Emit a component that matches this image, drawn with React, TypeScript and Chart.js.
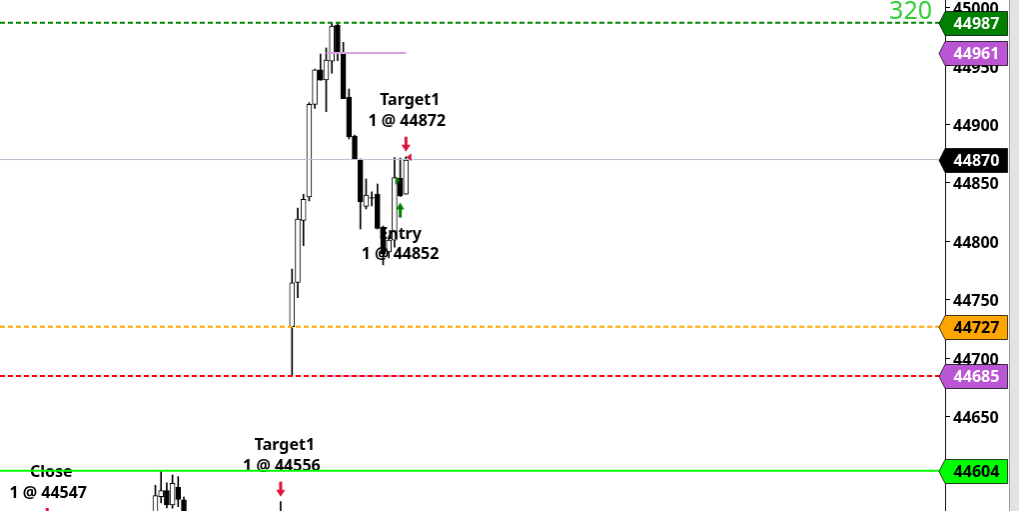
import React, { useEffect, useRef } from "react";
import { Chart, registerables } from "chart.js";
Chart.register(...registerables);

// ---- data ----
const barIndex = [-24, -23, -22, -21, -20, -19, -2, 0, 1, 2, 3, 4, 5, 6, 7, 8, 9, 10, 11, 12, 13, 14, 15, 16, 17, 18, 19, 20];
const openValues = [44566, 44581.8, 44586.9, 44574.7, 44589.8, 44579, 44566, 44727, 44765, 44818, 44838, 44917.2, 44946.6, 44938, 44954, 44985, 44961, 44923.5, 44890, 44869.5, 44830, 44837.5, 44840.5, 44810.5, 44791, 44801, 44854, 44840.3];
const highValues = [44591.5, 44604, 44593.5, 44600.3, 44598.9, 44581.5, 44577.5, 44776.4, 44828.6, 44840.3, 44918.6, 44947.4, 44960.2, 44965.4, 44986.5, 44987, 44970.2, 44930.3, 44891, 44870.5, 44853.4, 44842.3, 44849.1, 44813.2, 44804.6, 44871.6, 44871.3, 44872.4];
const lowValues = [44562, 44576.4, 44572.1, 44571.9, 44573.2, 44560, 44553, 44685, 44751.9, 44796.4, 44834.6, 44913.8, 44937.8, 44910.9, 44943.8, 44954.5, 44922, 44887.6, 44870.2, 44810.6, 44827.7, 44830.3, 44810.6, 44779.9, 44785.9, 44795, 44838.3, 44840.3];
const closeValues = [44582.6, 44586.9, 44574.7, 44593.2, 44579.5, 44566, 44558, 44764.5, 44819, 44836, 44917.2, 44946.6, 44937.8, 44955, 44984.2, 44960.8, 44922, 44889.5, 44870.2, 44834, 44839.7, 44837, 44811, 44789.3, 44801.2, 44854.5, 44839.1, 44869.6];

const yMin = 44569.5;
const yMax = 45006.4;
const yStep = 50;
const xMin = -51.28;
const xMax = 114.68;

// price levels (right-side badges)
const badgeValues = [44987, 44961, 44870, 44727, 44685, 44604];
const badgeFill = ["#008000", "#BA55D3", "#000000", "#FFA500", "#BA55D3", "#00FF00"];
const badgeTextColor = ["#ffffff", "#ffffff", "#ffffff", "#000000", "#ffffff", "#000000"];

// full-width horizontal lines
const lineValues = [44987, 44870, 44727, 44685, 44604];
const lineColors = ["#008000", "#b9c3d3", "#FFA500", "#FF0000", "#00FF00"];
const lineWidths = [2, 1, 2, 2, 2];
const lineDashes = [[5, 3], [], [5, 3], [5, 3], []];

// partial order lines (from bar to bar)
const segValues = [44961, 44685];
const segFrom = [6, 6];
const segTo = [20, 20];

// executions
const execIndex = [19, 20, -2, -43];
const execIsBuy = [true, false, false, false];
const execName = ["Entry", "Target1", "Target1", "Close"];
const execQty = [1, 1, 1, 1];
const execPrice = [44852, 44872, 44556, 44547];
const execBarExtreme = [44838.3, 44872.4, 44577.5, 44555];

const counterText = "320";

const FONT = '"Noto Sans", "Liberation Sans", sans-serif';
const BODY_DATASET = 1;

const overlayPlugin = {
  id: "overlay",
  afterDatasetDraw(chart: any, args: any) {
    if (args.index !== BODY_DATASET) return;
    const ctx = chart.ctx;
    const xs = chart.scales.x;
    const ys = chart.scales.y;
    ctx.save();
    ctx.font = `bold 16px ${FONT}`;
    ctx.fillStyle = "#000";
    ctx.textAlign = "center";
    ctx.textBaseline = "middle";
    for (let k = 0; k < execIndex.length; k++) {
      const px = xs.getPixelForValue(execIndex[k]);
      const ya = ys.getPixelForValue(execBarExtreme[k]);
      const t2 = `${execQty[k]} @ ${execPrice[k]}`;
      if (execIsBuy[k]) {
        ctx.fillText(execName[k], px, ya + 38);
        ctx.fillText(t2, px, ya + 58);
      } else {
        ctx.fillText(execName[k], px + 4, ya - 56);
        ctx.fillText(t2, px + 1, ya - 35);
      }
    }
    ctx.restore();
  },
  afterDatasetsDraw(chart: any) {
    const ctx = chart.ctx;
    const xs = chart.scales.x;
    const ys = chart.scales.y;
    ctx.save();
    for (let k = 0; k < execIndex.length; k++) {
      const px = xs.getPixelForValue(execIndex[k]);
      const ya = ys.getPixelForValue(execBarExtreme[k]);
      const yp = ys.getPixelForValue(execPrice[k]);
      if (execIsBuy[k]) {
        ctx.fillStyle = "#008000";
        ctx.fillRect(px - 1.5, ya + 12, 3, 9);
        ctx.beginPath();
        ctx.moveTo(px, ya + 6);
        ctx.lineTo(px + 4, ya + 13);
        ctx.lineTo(px - 4, ya + 13);
        ctx.closePath();
        ctx.fill();
        ctx.beginPath();
        ctx.moveTo(px - 5, yp - 4.5);
        ctx.lineTo(px - 0.5, yp);
        ctx.lineTo(px - 5, yp + 4.5);
        ctx.closePath();
        ctx.fill();
      } else {
        ctx.fillStyle = "#DC143C";
        ctx.fillRect(px - 1.5, ya - 20, 3, 9);
        ctx.beginPath();
        ctx.moveTo(px - 4.5, ya - 12);
        ctx.lineTo(px + 4.5, ya - 12);
        ctx.lineTo(px, ya - 5);
        ctx.closePath();
        ctx.fill();
        ctx.beginPath();
        ctx.moveTo(px + 0.5, yp);
        ctx.lineTo(px + 5.5, yp - 4);
        ctx.lineTo(px + 5.5, yp + 4);
        ctx.closePath();
        ctx.fill();
      }
    }
    ctx.restore();
  },
  afterDraw(chart: any) {
    const ctx = chart.ctx;
    const ys = chart.scales.y;
    const area = chart.chartArea;
    const right = chart.width - 1;
    ctx.save();
    for (let k = 0; k < badgeValues.length; k++) {
      const yc = Math.round(ys.getPixelForValue(badgeValues[k])) + 0.5;
      const l = area.right;
      ctx.beginPath();
      ctx.moveTo(l - 6, yc);
      ctx.lineTo(l, yc - 12);
      ctx.lineTo(right - 0.5, yc - 12);
      ctx.lineTo(right - 0.5, yc + 12);
      ctx.lineTo(l, yc + 12);
      ctx.closePath();
      ctx.fillStyle = badgeFill[k];
      ctx.fill();
      ctx.strokeStyle = "rgba(0,0,0,0.75)";
      ctx.lineWidth = 1;
      ctx.stroke();
      ctx.fillStyle = badgeTextColor[k];
      ctx.font = `bold 16px ${FONT}`;
      ctx.textAlign = "center";
      ctx.textBaseline = "middle";
      ctx.fillText(String(badgeValues[k]), (l + right) / 2, yc + 1);
    }
    ctx.fillStyle = "#32CD32";
    ctx.font = `25px ${FONT}`;
    ctx.textAlign = "right";
    ctx.textBaseline = "alphabetic";
    ctx.fillText(counterText, area.right - 13, 18.5);
    ctx.restore();
  },
};

export default function App() {
  const ref = useRef<HTMLCanvasElement | null>(null);
  useEffect(() => {
    if (!ref.current) return;
    const wicks = barIndex.map((x, i) => ({ x, y: [lowValues[i], highValues[i]] }));
    const bodies = barIndex.map((x, i) => ({ x, y: [openValues[i], closeValues[i]] }));
    const bodyColors = barIndex.map((_, i) => (closeValues[i] > openValues[i] ? "#ffffff" : "#000000"));
    const lineSets: any[] = lineValues.map((v, k) => ({
      type: "line",
      data: [{ x: xMin, y: v }, { x: xMax, y: v }],
      borderColor: lineColors[k],
      borderWidth: lineWidths[k],
      borderDash: lineDashes[k],
      pointRadius: 0,
      order: 0,
    }));
    const segSets: any[] = segValues.map((v, k) => ({
      type: "line",
      data: [{ x: segFrom[k], y: v }, { x: segTo[k], y: v }],
      borderColor: "#D9A3E3",
      borderWidth: 2,
      pointRadius: 0,
      order: 0.5,
    }));
    const chart = new Chart(ref.current, {
      type: "bar",
      data: {
        datasets: [
          {
            data: wicks as any,
            backgroundColor: "#000",
            barThickness: 1,
            grouped: false,
            order: 2,
          } as any,
          {
            data: bodies as any,
            backgroundColor: bodyColors,
            borderColor: "#000",
            borderWidth: 1,
            borderSkipped: false,
            barThickness: 5,
            grouped: false,
            order: 1,
          } as any,
          ...lineSets,
          ...segSets,
        ],
      },
      options: {
        responsive: false,
        maintainAspectRatio: false,
        animation: false,
        layout: { padding: 0 },
        plugins: { legend: { display: false }, tooltip: { enabled: false } },
        scales: {
          x: { type: "linear", min: xMin, max: xMax, display: false, offset: false },
          y: {
            type: "linear",
            position: "right",
            min: yMin,
            max: yMax,
            ticks: {
              stepSize: yStep,
              includeBounds: false,
              color: "#000",
              padding: 3,
              labelOffset: 2,
              font: { family: FONT, size: 16, weight: "bold" },
              callback: (v: any) => String(v),
            },
            grid: { drawOnChartArea: false, drawTicks: true, tickLength: 5, color: "#000" },
            border: { display: true, color: "#000", width: 1 },
            afterFit: (s: any) => {
              s.width = 64;
              s.paddingTop = 0;
              s.paddingBottom = 0;
            },
          } as any,
        },
      } as any,
      plugins: [overlayPlugin],
    });
    return () => chart.destroy();
  }, []);
  return (
    <div style={{ position: "fixed", left: 0, top: 0, width: 1019, height: 511, background: "#e3e3e3" }}>
      <canvas
        ref={ref}
        width={1010}
        height={511}
        style={{ display: "block", width: 1010, height: 511, background: "#fff", borderRight: "1px solid #9a9a9a" }}
      />
    </div>
  );
}
